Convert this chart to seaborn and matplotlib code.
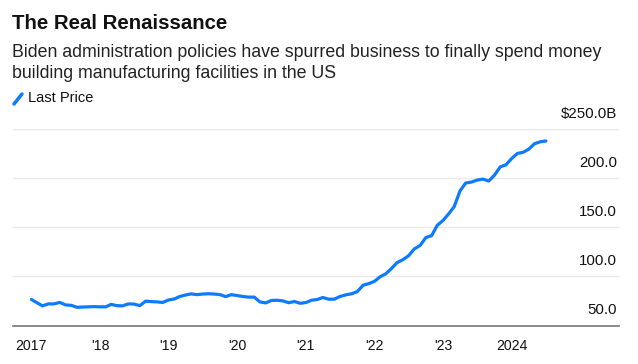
import numpy as np
import pandas as pd
import matplotlib
matplotlib.use("Agg")
import matplotlib.pyplot as plt
import matplotlib.dates as mdates
from matplotlib.transforms import ScaledTranslation
import seaborn as sns

# ---- data (monthly, Jan 2017 - Jul 2024), $B ----
start_month = "2017-01-01"
values = [
    76.5, 73.0, 70.0, 72.0, 72.0, 73.5, 71.0, 70.5, 68.5, 68.8, 69.0, 69.2,
    69.0, 69.0, 71.5, 70.2, 70.0, 72.0, 71.8, 70.2, 74.8, 74.3, 74.0, 73.5,
    76.0, 77.0, 79.5, 81.0, 82.2, 81.4, 82.0, 82.3, 82.0, 81.5, 79.4, 81.4,
    80.5, 79.5, 78.9, 78.9, 74.0, 73.0, 75.5, 75.7, 75.0, 73.2, 74.4, 72.6,
    73.4, 75.8, 76.4, 78.5, 76.8, 76.8, 79.5, 81.2, 82.3, 84.5, 91.0, 92.6,
    95.0, 99.8, 102.5, 108.0, 114.0, 117.0, 121.0, 128.0, 131.5, 139.5, 141.5, 152.0,
    157.0, 164.0, 171.0, 187.0, 195.0, 196.0, 198.0, 199.0, 197.0, 203.0, 211.5, 213.5,
    220.0, 225.2, 226.2, 229.5, 235.0, 237.0, 237.8,
]
dates = pd.date_range(start_month, periods=len(values), freq="MS")
df = pd.DataFrame({"date": dates, "value": values})

y_ticks = [50, 100, 150, 200, 250]
y_tick_labels = ["50.0", "100.0", "150.0", "200.0", "$250.0B"]
x_tick_years = [2017, 2018, 2019, 2020, 2021, 2022, 2023, 2024]
x_tick_labels = ["2017", "'18", "'19", "'20", "'21", "'22", "'23", "2024"]

title = "The Real Renaissance"
subtitle = ("Biden administration policies have spurred business to finally spend money\n"
            "building manufacturing facilities in the US")
legend_label = "Last Price"

# ---- style ----
sns.set_theme(style="white")
plt.rcParams["font.family"] = ["Liberation Sans", "DejaVu Sans"]

LINE_COLOR = "#0d7bff"
W, H = 638, 364
fig = plt.figure(figsize=(W / 100, H / 100), dpi=100)
ax = fig.add_axes([13 / W, (H - 325.5) / H, 606 / W, 196.5 / H])

sns.lineplot(data=df, x="date", y="value", ax=ax, color=LINE_COLOR,
             linewidth=2.3, legend=False)

ax.set_ylim(50, 250)
ax.set_xlim(pd.Timestamp("2016-09-25"), pd.Timestamp("2025-07-25"))

# gridlines
ax.set_yticks(y_ticks)
ax.yaxis.grid(True, color="#e9e9e9", linewidth=1.0)
ax.xaxis.grid(False)
ax.set_axisbelow(True)

# y labels on right, above gridlines
ax.yaxis.tick_right()
ax.set_yticklabels(y_tick_labels)
ax.tick_params(axis="y", length=0, pad=0, labelsize=10.8, labelcolor="#111111")
offset = ScaledTranslation(-2 / 100, 8 / 100, fig.dpi_scale_trans)
for lab in ax.get_yticklabels():
    lab.set_horizontalalignment("right")
    lab.set_verticalalignment("bottom")
    lab.set_transform(lab.get_transform() + offset)

# x ticks
ax.set_xticks([pd.Timestamp(f"{y}-01-01") for y in x_tick_years])
ax.set_xticklabels(x_tick_labels)
ax.tick_params(axis="x", length=6, width=1, color="#222222", direction="out",
               pad=4, labelsize=10.2, labelcolor="#111111")

for s in ["top", "right", "left"]:
    ax.spines[s].set_visible(False)
ax.spines["bottom"].set_color("#777777")
ax.spines["bottom"].set_linewidth(1.2)
ax.set_xlabel("")
ax.set_ylabel("")

# titles
fig.text(12 / W, 1 - 23.5 / H, title, fontsize=14.7, fontweight="bold",
         color="#111111", va="center", ha="left")
fig.text(12 / W, 1 - 44 / H, subtitle, fontsize=12.8, color="#222222",
         va="top", ha="left", linespacing=1.32)

# legend
fig.add_artist(plt.Line2D([14 / W, 22 / W], [1 - 104 / H, 1 - 94 / H],
                          color=LINE_COLOR, linewidth=2.5,
                          transform=fig.transFigure))
fig.text(28 / W, 1 - 98.5 / H, legend_label, fontsize=10.5, color="#111111",
         va="center", ha="left")

fig.savefig("out.png", dpi=100)
